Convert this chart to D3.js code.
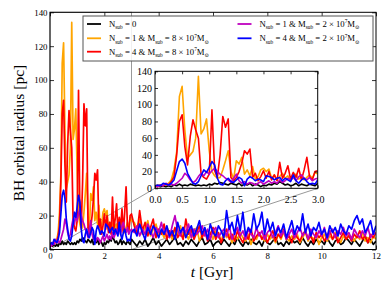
<!DOCTYPE html>
<html><head><meta charset="utf-8">
<script src="https://cdn.jsdelivr.net/npm/d3@7"></script>
<style>body{margin:0;background:#fff} svg{display:block}</style>
</head><body>
<svg id="c" width="390" height="293"></svg>
<script>
// sample times: 0–3 Gyr every 0.05, then 3.1–12 Gyr every 0.1
const tEarly = d3.range(0, 61).map(i => +(i * 0.05).toFixed(2));
const tLate = d3.range(31, 121).map(i => i / 10);

const blackEarly = [2,3,2,3,2,3,2,4,3,5, 3,4,3,5,4,3,4,3,4,3, 5,4,6,5,7,6,5,4,6,5, 4,6,3,5,4,6,3,5,4,2, 4,3,5,4,6,5,8,6,4,5, 3,4,6,3,5,4,3,5,4,3, 6];
const orangeEarly = [3,4,3,5,4,6,10,22,44,110, 122,70,36,40,44,60,134,65,71,83, 45,20,15,12,13,22,33,45,20,11, 33,29,37,17,22,15,26,11,14,22, 24,20,23,12,16,10,14,18,12,15, 9,13,17,11,14,10,13,16,12,19, 17];
const redEarly = [3,2,4,3,5,4,8,14,40,80, 88,50,28,62,82,70,60,17,13,11, 17,94,21,13,40,86,73,83,13,9, 13,20,30,45,41,47,13,18,9,14, 21,12,20,10,16,9,31,12,18,27, 11,19,13,24,10,22,37,14,10,20, 21];
const magentaEarly = [3,2,4,3,6,4,5,4,6,9, 12,18,15,10,7,9,14,18,15,20, 17,21,24,20,17,15,12,10,7,12, 17,9,6,8,5,7,6,4,6,8, 5,7,9,6,8,6,10,7,9,12, 10,13,9,14,16,12,10,13,9,11, 12];
const blueEarly = [3,4,3,6,5,4,6,10,21,32, 35,30,18,12,6,5,8,15,22,19, 25,32,28,12,5,4,9,12,8,7, 10,13,11,3,11,14,12,9,11,10, 8,15,14,13,10,12,13,9,12,10, 8,16,9,6,10,12,8,5,6,5, 10];

const blackLate = [4,2,5,3,6,2,4,7,3,5, 2,4,6,3,5,8,3,4,2,5, 3,6,4,2,5,7,3,4,6,2, 4,5,3,6,4,2,5,3,7,4, 2,5,3,6,4,3,5,2,6,4, 3,5,7,3,4,2,5,3,6,4, 5,3,7,4,2,5,3,6,4,5, 3,7,4,2,5,6,3,4,7,5, 3,6,4,2,5,8,4,6,3,5];
const orangeLate = [16,12,18,9,13,17,8,12,15,9, 11,7,13,10,6,12,9,14,7,10, 6,11,8,13,5,9,12,7,10,6, 11,8,5,10,7,9,4,8,6,10, 7,5,9,3,8,6,10,7,5,9, 6,8,4,9,6,10,7,5,8,6, 9,4,7,10,5,8,6,9,3,7, 9,5,8,6,10,7,4,8,6,9, 7,5,8,6,10,5,7,4,8,6];
const redLate = [14,9,23,11,16,8,13,18,7,12, 9,15,6,11,8,13,7,10,6,18, 9,12,6,10,14,7,11,5,9,13, 6,10,4,8,12,6,9,5,11,7, 4,9,6,12,5,8,10,6,9,4, 8,11,5,9,7,12,6,8,4,10, 7,5,9,11,6,8,4,10,7,9, 5,8,11,6,9,4,7,10,6,8, 5,9,7,11,6,8,4,9,7,10];
const magentaLate = [10,14,8,12,9,15,11,7,13,10, 16,9,12,7,14,20,11,8,13,10, 15,7,12,9,11,14,8,12,6,11, 13,7,10,12,8,14,6,10,13,8, 11,6,12,9,7,13,8,11,6,10, 12,7,10,14,8,11,6,9,12,7, 10,13,8,11,6,12,9,7,11,8, 13,6,10,12,7,11,9,13,8,10, 6,12,9,7,11,8,13,7,10,9];
const blueLate = [12,8,15,10,6,13,9,14,11,7, 12,9,14,8,11,6,16,10,13,7, 11,14,8,12,17,9,13,6,15,10, 8,14,11,7,23,12,16,9,20,11, 22,8,13,10,21,12,15,22,9,18, 11,16,8,13,10,15,7,12,17,9, 14,11,21,10,15,8,13,11,16,9, 12,7,14,10,13,8,15,11,9,14, 12,17,20,15,18,10,13,17,9,14];

const mainXTicks = [0,2,4,6,8,10,12];
const mainYTicks = [0,20,40,60,80,100,120,140];
const insetXTicks = [0,0.5,1,1.5,2,2.5,3];
const insetYTicks = [0,20,40,60,80,100,120,140];

const series = [
  {color:"#000000", early:blackEarly, late:blackLate, n:"0", m:null},
  {color:"#FFA500", early:orangeEarly, late:orangeLate, n:"1", m:"8"},
  {color:"#FF0000", early:redEarly, late:redLate, n:"4", m:"8"},
  {color:"#BF00BF", early:magentaEarly, late:magentaLate, n:"1", m:"2"},
  {color:"#0000FF", early:blueEarly, late:blueLate, n:"4", m:"2"}
];
series.forEach(s => {
  s.pts = tEarly.map((t,i)=>[t, s.early[i]]).concat(tLate.map((t,i)=>[t, s.late[i]]));
});

const FONT = "'Liberation Serif', 'DejaVu Serif', serif";
const svg = d3.select("#c");
const x = d3.scaleLinear([0,12],[50,376]);
const y = d3.scaleLinear([0,140],[249.5,12.3]);
const xi = d3.scaleLinear([0,3],[155,317.7]);
const yi = d3.scaleLinear([0,140],[188.3,71.3]);

const defs = svg.append("defs");
defs.append("clipPath").attr("id","cm").append("rect")
  .attr("x",x(0)).attr("y",y(140)).attr("width",x(12)-x(0)).attr("height",y(0)-y(140));
defs.append("clipPath").attr("id","ci").append("rect")
  .attr("x",xi(0)).attr("y",yi(140)).attr("width",xi(3)-xi(0)).attr("height",yi(0)-yi(140));

// inset marker (rectangle + connectors)
const gm = svg.append("g");
gm.append("rect").attr("x",x(0)).attr("y",y(140)).attr("width",x(3)-x(0)).attr("height",y(0)-y(140))
  .attr("fill","none").attr("stroke","#999").attr("stroke-width",1);
gm.append("line").attr("x1",x(0)).attr("y1",y(0)).attr("x2",xi(0)).attr("y2",yi(0))
  .attr("stroke","#999").attr("stroke-width",1);
gm.append("line").attr("x1",x(3)).attr("y1",y(0)).attr("x2",xi(3)).attr("y2",yi(0))
  .attr("stroke","#999").attr("stroke-width",1);

// main lines
const lineM = d3.line().x(d=>x(d[0])).y(d=>y(d[1]));
const gl = svg.append("g").attr("clip-path","url(#cm)");
series.forEach(s => gl.append("path").attr("d", lineM(s.pts)).attr("fill","none")
  .attr("stroke", s.color).attr("stroke-width",1.7).attr("stroke-linejoin","round"));

function styleAxis(g, fs){
  g.select(".domain").remove();
  g.selectAll(".tick line").attr("stroke","#000").attr("stroke-width",0.8);
  g.selectAll("text").attr("font-family",FONT).attr("font-size",fs).attr("fill","#000");
}
const T = 4;
svg.append("g").attr("transform",`translate(0,${y(0)})`)
  .call(d3.axisBottom(x).tickValues(mainXTicks).tickSize(-T).tickPadding(3.5).tickFormat(d3.format("d")))
  .call(g=>styleAxis(g,8.9));
svg.append("g").attr("transform",`translate(0,${y(140)})`)
  .call(d3.axisTop(x).tickValues(mainXTicks).tickSize(-T).tickFormat(""))
  .call(g=>styleAxis(g,8.9));
svg.append("g").attr("transform",`translate(${x(0)},0)`)
  .call(d3.axisLeft(y).tickValues(mainYTicks).tickSize(-T).tickPadding(2.5).tickFormat(d3.format("d")))
  .call(g=>styleAxis(g,8.9));
svg.append("g").attr("transform",`translate(${x(12)},0)`)
  .call(d3.axisRight(y).tickValues(mainYTicks).tickSize(-T).tickFormat(""))
  .call(g=>styleAxis(g,8.9));
svg.append("rect").attr("x",x(0)).attr("y",y(140)).attr("width",x(12)-x(0)).attr("height",y(0)-y(140))
  .attr("fill","none").attr("stroke","#000").attr("stroke-width",1);

// axis labels
svg.append("text").attr("x",212).attr("y",277).attr("text-anchor","middle")
  .attr("font-family",FONT).attr("font-size",15.5)
  .call(t=>{ t.append("tspan").attr("font-style","italic").text("t"); t.append("tspan").text(" [Gyr]"); });
svg.append("text").attr("transform","translate(24,133) rotate(-90)").attr("text-anchor","middle")
  .attr("font-family",FONT).attr("font-size",15.5).text("BH orbital radius [pc]");

// legend
function rich(sel, s, fs){
  const parts = [["N"],["sub","sub"],[" = " + s.n]];
  if (s.m) parts.push([" & M"],["sub","sub"],[" = " + s.m + " × 10"],["7","sup"],["M"],["⊙","sub"]);
  let off = 0;
  parts.forEach(p => {
    const ts = sel.append("tspan").text(p[0]);
    let target = 0, size = fs;
    if (p[1]==="sub"){ target = 0.28*fs; size = fs*0.62; }
    if (p[1]==="sup"){ target = -0.38*fs; size = fs*0.62; }
    ts.attr("font-size", size).attr("dy", target - off);
    off = target;
  });
}
const lg = svg.append("g");
lg.append("rect").attr("x",83).attr("y",16).attr("width",290).attr("height",45)
  .attr("fill","#fff").attr("fill-opacity",0.85).attr("stroke","#555").attr("stroke-width",1);
const legPos = [[87,24],[87,38.3],[87,51.7],[237.5,24],[237.5,38.3]];
series.forEach((s,i) => {
  const [lx,ly] = legPos[i];
  lg.append("line").attr("x1",lx).attr("x2",lx+14).attr("y1",ly).attr("y2",ly)
    .attr("stroke",s.color).attr("stroke-width",1.8);
  const t = lg.append("text").attr("x",lx+22).attr("y",ly+2.8)
    .attr("font-family",FONT).attr("font-size",8.7).attr("fill","#000");
  rich(t, s, 8.7);
});

// inset
const gi = svg.append("g");
gi.append("rect").attr("x",xi(0)).attr("y",yi(140)).attr("width",xi(3)-xi(0)).attr("height",yi(0)-yi(140))
  .attr("fill","#fff");
const lineI = d3.line().x(d=>xi(d[0])).y(d=>yi(d[1]));
const gil = gi.append("g").attr("clip-path","url(#ci)");
series.forEach(s => gil.append("path").attr("d", lineI(s.pts.filter(d=>d[0]<=3.05))).attr("fill","none")
  .attr("stroke", s.color).attr("stroke-width",1.6).attr("stroke-linejoin","round"));
const TI = 3;
gi.append("g").attr("transform",`translate(0,${yi(0)})`)
  .call(d3.axisBottom(xi).tickValues(insetXTicks).tickSize(-TI).tickPadding(7.5).tickFormat(d3.format(".1f")))
  .call(g=>styleAxis(g,10));
gi.append("g").attr("transform",`translate(0,${yi(140)})`)
  .call(d3.axisTop(xi).tickValues(insetXTicks).tickSize(-TI).tickFormat(""))
  .call(g=>styleAxis(g,10));
gi.append("g").attr("transform",`translate(${xi(0)},0)`)
  .call(d3.axisLeft(yi).tickValues(insetYTicks).tickSize(-TI).tickPadding(3).tickFormat(d3.format("d")))
  .call(g=>styleAxis(g,10));
gi.append("g").attr("transform",`translate(${xi(3)},0)`)
  .call(d3.axisRight(yi).tickValues(insetYTicks).tickSize(-TI).tickFormat(""))
  .call(g=>styleAxis(g,10));
gi.append("rect").attr("x",xi(0)).attr("y",yi(140)).attr("width",xi(3)-xi(0)).attr("height",yi(0)-yi(140))
  .attr("fill","none").attr("stroke","#000").attr("stroke-width",1);
</script>
</body></html>
